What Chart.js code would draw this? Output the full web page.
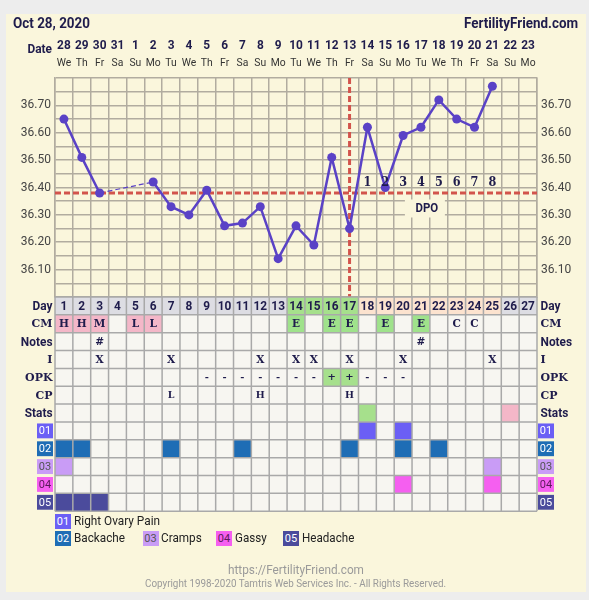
<!DOCTYPE html>
<html lang="en">
<head>
<meta charset="utf-8">
<title>Fertility chart</title>
<script src="https://cdn.jsdelivr.net/npm/chart.js@4.4.1/dist/chart.umd.min.js"></script>
<style>
  html, body { margin: 0; padding: 0; }
  body { width: 589px; height: 600px; background: #ededed; font-family: Roboto, "Noto Sans", sans-serif; position: relative; overflow: hidden; }
  #panel { position: absolute; left: 6px; top: 14px; width: 580px; height: 578px; background: #faf6dc; }
  #box { position: absolute; left: 0; top: 0; width: 589px; height: 600px; }
  .txt { position: absolute; white-space: nowrap; transform-origin: 0 50%; }
  .title { font-weight: 700; font-size: 15.5px; color: #1f1c4c; line-height: 18px; }
  .key { position: absolute; width: 16px; height: 15px; font-size: 11px; line-height: 15px; text-align: center; }
  .leg { font-size: 13px; line-height: 16px; color: #222; }
  .foot { color: #9a9a9a; }
</style>
</head>
<body>
<div id="panel"></div>
<div id="box"><canvas id="chart"></canvas></div>
<div class="txt title fit" data-w="77" style="left:13px; top:14px;">Oct 28, 2020</div>
<div class="txt title fit" data-w="114" style="left:464px; top:14px;">FertilityFriend.com</div>
<div id="legend"></div>
<div class="txt foot fit" data-w="136" style="left:228px; top:562px; font-size:12px; line-height:16px;">https://FertilityFriend.com</div>
<div class="txt foot fit" data-w="301" style="left:145px; top:577px; font-size:10px; line-height:13px;">Copyright 1998-2020 Tamtris Web Services Inc. - All Rights Reserved.</div>
<script>
// ---- data ----
const dateLabels = ['28','29','30','31','1','2','3','4','5','6','7','8','9','10','11','12','13','14','15','16','17','18','19','20','21','22','23'];
const weekdays = ['We','Th','Fr','Sa','Su','Mo','Tu','We','Th','Fr','Sa','Su','Mo','Tu','We','Th','Fr','Sa','Su','Mo','Tu','We','Th','Fr','Sa','Su','Mo'];
const cycleDays = ['1','2','3','4','5','6','7','8','9','10','11','12','13','14','15','16','17','18','19','20','21','22','23','24','25','26','27'];
const temps = [36.65, 36.51, 36.38, null, null, 36.42, 36.33, 36.30, 36.39, 36.26, 36.27, 36.33, 36.14, 36.26,
               36.19, 36.51, 36.25, 36.62, 36.40, 36.59, 36.62, 36.72, 36.65, 36.62, 36.77, null, null];
const tempTicks = [36.10, 36.20, 36.30, 36.40, 36.50, 36.60, 36.70];
const coverline = 36.38;
const ovulationDay = 17;
const dpoDays = [18, 19, 20, 21, 22, 23, 24, 25];
const dpoLabels = ['1','2','3','4','5','6','7','8'];
const fertileDays = [14, 15, 16, 17];
const cervicalMucus = ['H','H','M','','L','L','','','','','','','','E','','E','E','','E','','E','','C','C','','',''];
const noteDays = [3, 21];
const intercourseDays = [3, 7, 12, 14, 15, 17, 20, 25];
const opk = ['','','','','','','','','-','-','-','-','-','-','-','+','+','-','-','-','','','','','','',''];
const cervixPos = { 7: 'L', 12: 'H', 17: 'H' };
const statsFirstDays = [18];
const statsSecondDays = [26];
const symptomCodes = ['01','02','03','04','05'];
const symptomNames = ['Right Ovary Pain','Backache','Cramps','Gassy','Headache'];
const symptomDays = [[18, 20], [1, 2, 7, 11, 17, 20, 22], [1, 25], [20, 25], [1, 2, 3]];

// ---- styles ----
const INK = '#1f1c4c';
const GRID = '#b1ac9f';
const TABLE_GRID = '#a9a9a9';
const CELL = '#f7f6f1';
const LINE = '#5a42c6';
const RED = '#d2544c';
const PINK = '#f4b7c8';
const GREEN = '#a6e08c';
const PHASE = { plain: '#dddde3', fertile: '#a6e08c', luteal: '#fce3cf' };
const CM_FILL = { H: PINK, M: PINK, L: PINK, E: '#9fe28b' };
const symptomFill = ['#6b5ff5', '#1e6db5', '#c99cf6', '#f55ff0', '#4b4b9c'];
const symptomInk = ['#ffffff', '#ffffff', '#555555', '#5a1a5a', '#ffffff'];
const SANS = 'Roboto, "Noto Sans", sans-serif';
const SERIF = '"DejaVu Serif", "Liberation Serif", serif';

function drawText(ctx, str, x, y, font, color, align, sx) {
  ctx.save();
  ctx.font = font;
  ctx.fillStyle = color;
  ctx.textBaseline = 'middle';
  ctx.textAlign = align || 'center';
  ctx.translate(x, y);
  ctx.scale(sx || 1, 1);
  ctx.fillText(str, 0, 0);
  ctx.restore();
}

function tickLabel(v) {
  const c = Math.round(v * 100);
  return tempTicks.some(t => Math.round(t * 100) === c) ? v.toFixed(2) : '';
}

function fixAxis(w) {
  return s => {
    if (w !== undefined) s.width = w; else s.height = 0;
    s.paddingTop = 0; s.paddingBottom = 0; s.paddingLeft = 0; s.paddingRight = 0;
  };
}

const has = (list, day) => list.indexOf(day) !== -1;

// rows of the table under the chart
const rows = [
  { label: 'Day', font: 'bold 13.5px ' + SANS, sx: 0.88, labelFont: 'bold 13.5px ' + SANS,
    text: i => cycleDays[i],
    fill: i => has(fertileDays, i + 1) ? PHASE.fertile : has(dpoDays, i + 1) ? PHASE.luteal : PHASE.plain },
  { label: 'CM', font: 'bold 10.5px ' + SERIF, labelFont: 'bold 11px ' + SERIF,
    text: i => cervicalMucus[i], fill: i => CM_FILL[cervicalMucus[i]] },
  { label: 'Notes', font: 'bold 10.5px ' + SERIF, labelFont: 'bold 13.5px ' + SANS,
    text: i => has(noteDays, i + 1) ? '#' : '' },
  { label: 'I', font: 'bold 10.5px ' + SERIF, labelFont: 'bold 11px ' + SERIF,
    text: i => has(intercourseDays, i + 1) ? 'X' : '' },
  { label: 'OPK', font: 'bold 10px ' + SERIF, labelFont: 'bold 11px ' + SERIF,
    text: i => opk[i], fill: i => opk[i] === '+' ? GREEN : null },
  { label: 'CP', font: 'bold 9.5px ' + SERIF, labelFont: 'bold 11px ' + SERIF,
    text: i => cervixPos[i + 1] || '' },
  { label: 'Stats', labelFont: 'bold 13.5px ' + SANS,
    fill: i => has(statsFirstDays, i + 1) ? GREEN : has(statsSecondDays, i + 1) ? PINK : null }
].concat(symptomCodes.map((code, k) => ({
  box: k, label: code, fill: i => has(symptomDays[k], i + 1) ? symptomFill[k] : null
})));

const headerPlugin = {
  id: 'dateHeader',
  afterDraw(chart) {
    const { ctx, scales: { x } } = chart;
    dateLabels.forEach((d, i) => {
      const px = x.getPixelForValue(i);
      drawText(ctx, d, px, 45.5, 'bold 13.5px ' + SANS, INK, 'center', 0.88);
      drawText(ctx, weekdays[i], px, 63.5, '11.5px ' + SANS, '#333', 'center', 0.9);
    });
    drawText(ctx, 'Date', 52, 50, 'bold 13.5px ' + SANS, INK, 'right', 0.88);
  }
};

const markerPlugin = {
  id: 'markers',
  beforeDatasetsDraw(chart) {
    const { ctx, chartArea: a, scales: { x, y } } = chart;
    ctx.save();
    ctx.strokeStyle = RED;
    ctx.lineWidth = 3;
    ctx.setLineDash([6, 3]);
    const cy = y.getPixelForValue(coverline);
    ctx.beginPath();
    ctx.moveTo(a.left, cy); ctx.lineTo(a.right, cy);
    const ox = x.getPixelForValue(ovulationDay - 1);
    ctx.moveTo(ox, a.top); ctx.lineTo(ox, a.bottom);
    ctx.stroke();
    ctx.restore();
  },
  afterDatasetsDraw(chart) {
    const { ctx, scales: { x, y } } = chart;
    const cy = y.getPixelForValue(coverline);
    dpoDays.forEach((d, k) => {
      drawText(ctx, dpoLabels[k], x.getPixelForValue(d - 1), cy - 10, 'bold 12.5px ' + SERIF, INK, 'center', 0.9);
    });
    const bx = (x.getPixelForValue(20) + x.getPixelForValue(21)) / 2 - 5;
    ctx.fillStyle = '#faf6dc';
    ctx.fillRect(bx - 20, cy + 6.5, 40, 18);
    drawText(ctx, 'DPO', bx + 2, cy + 15.5, 'bold 13px ' + SANS, INK, 'center', 0.88);
  }
};

const tablePlugin = {
  id: 'cycleTable',
  afterDraw(chart) {
    const { ctx, chartArea: a, scales: { x } } = chart;
    const n = cycleDays.length;
    const w = (a.right - a.left) / n;
    const top = a.bottom;
    rows.forEach((row, r) => {
      const y0 = top + r * w;
      const cy = y0 + w / 2;
      for (let i = 0; i < n; i++) {
        const cx = x.getPixelForValue(i);
        ctx.fillStyle = (row.fill && row.fill(i)) || CELL;
        ctx.fillRect(cx - w / 2, y0, w, w);
        const t = row.text ? row.text(i) : '';
        if (t) drawText(ctx, t, cx, cy + 0.5, row.font, INK, 'center', row.sx || 1);
      }
      if (row.box !== undefined) {
        [a.left - 18, a.right + 1].forEach(bx => {
          ctx.fillStyle = symptomFill[row.box];
          ctx.fillRect(bx, y0 + 1.5, 16, w - 3);
          drawText(ctx, row.label, bx + 8, cy + 0.5, '11px ' + SANS, symptomInk[row.box], 'center', 1);
        });
      } else {
        const sx = row.labelFont.indexOf('Roboto') !== -1 ? 0.88 : 1;
        drawText(ctx, row.label, a.left - 2.5, cy + 0.5, row.labelFont, INK, 'right', sx);
        drawText(ctx, row.label, a.right + 3.5, cy + 0.5, row.labelFont, INK, 'left', sx);
      }
    });
    ctx.save();
    ctx.strokeStyle = TABLE_GRID;
    ctx.lineWidth = 1.5;
    ctx.beginPath();
    const bottom = top + rows.length * w;
    for (let i = 0; i <= n; i++) {
      const gx = x.getPixelForValue(Math.min(i, n - 1)) + (i === n ? w / 2 : -w / 2);
      ctx.moveTo(gx, top); ctx.lineTo(gx, bottom);
    }
    for (let r = 0; r <= rows.length; r++) {
      ctx.moveTo(a.left, top + r * w); ctx.lineTo(a.right, top + r * w);
    }
    ctx.stroke();
    ctx.restore();
  }
};

const tickStyle = { stepSize: 0.05, autoSkip: false, padding: 4, callback: tickLabel,
                    font: { family: 'Roboto', size: 12 }, color: '#444' };

new Chart(document.getElementById('chart'), {
  type: 'line',
  data: {
    labels: cycleDays,
    datasets: [{
      data: temps,
      borderColor: LINE,
      backgroundColor: LINE,
      pointBackgroundColor: LINE,
      pointBorderColor: LINE,
      borderWidth: 2.5,
      pointRadius: 4.5,
      pointHoverRadius: 4.5,
      pointBorderWidth: 0,
      spanGaps: true,
      tension: 0,
      segment: {
        borderDash: c => (c.p0.skip || c.p1.skip) ? [5, 3] : undefined,
        borderWidth: c => (c.p0.skip || c.p1.skip) ? 1.2 : undefined
      }
    }]
  },
  options: {
    responsive: true,
    maintainAspectRatio: false,
    animation: false,
    events: [],
    layout: { padding: { left: 5, right: 2, top: 78, bottom: 303 } },
    plugins: { legend: { display: false }, tooltip: { enabled: false } },
    scales: {
      x: {
        type: 'category', offset: true,
        grid: { offset: true, color: GRID, lineWidth: 1.5, drawTicks: false },
        ticks: { display: false }, border: { display: false },
        afterFit: fixAxis()
      },
      y: {
        min: 36.0, max: 36.8, ticks: tickStyle,
        grid: { color: GRID, lineWidth: 1.5, drawTicks: false },
        border: { display: true, color: GRID, width: 1.5 },
        afterFit: fixAxis(50)
      },
      y2: {
        position: 'right', min: 36.0, max: 36.8, ticks: tickStyle,
        grid: { display: false, drawTicks: false },
        border: { display: true, color: GRID, width: 1.5 },
        afterFit: fixAxis(50)
      }
    }
  },
  plugins: [headerPlugin, markerPlugin, tablePlugin]
});

// legend under the table
const legendSpots = [[55, 513.5, 74, 86], [55, 530.5, 74, 51], [142.5, 530.5, 161, 40.7], [216, 530.5, 235, 31.7], [283, 530.5, 301.5, 52.3]];
const legend = document.getElementById('legend');
symptomCodes.forEach((code, k) => {
  const [bx, by, tx, tw] = legendSpots[k];
  const key = document.createElement('div');
  key.className = 'key';
  key.style.cssText = `left:${bx}px;top:${by}px;background:${symptomFill[k]};color:${symptomInk[k]};`;
  key.textContent = code;
  legend.appendChild(key);
  const name = document.createElement('div');
  name.className = 'txt leg fit';
  name.dataset.w = tw;
  name.style.cssText = `left:${tx}px;top:${by - 0.5}px;`;
  name.textContent = symptomNames[k];
  legend.appendChild(name);
});

document.querySelectorAll('.fit').forEach(el => {
  const k = parseFloat(el.dataset.w) / el.getBoundingClientRect().width;
  el.style.transform = 'scaleX(' + k.toFixed(3) + ')';
});
</script>
</body>
</html>
